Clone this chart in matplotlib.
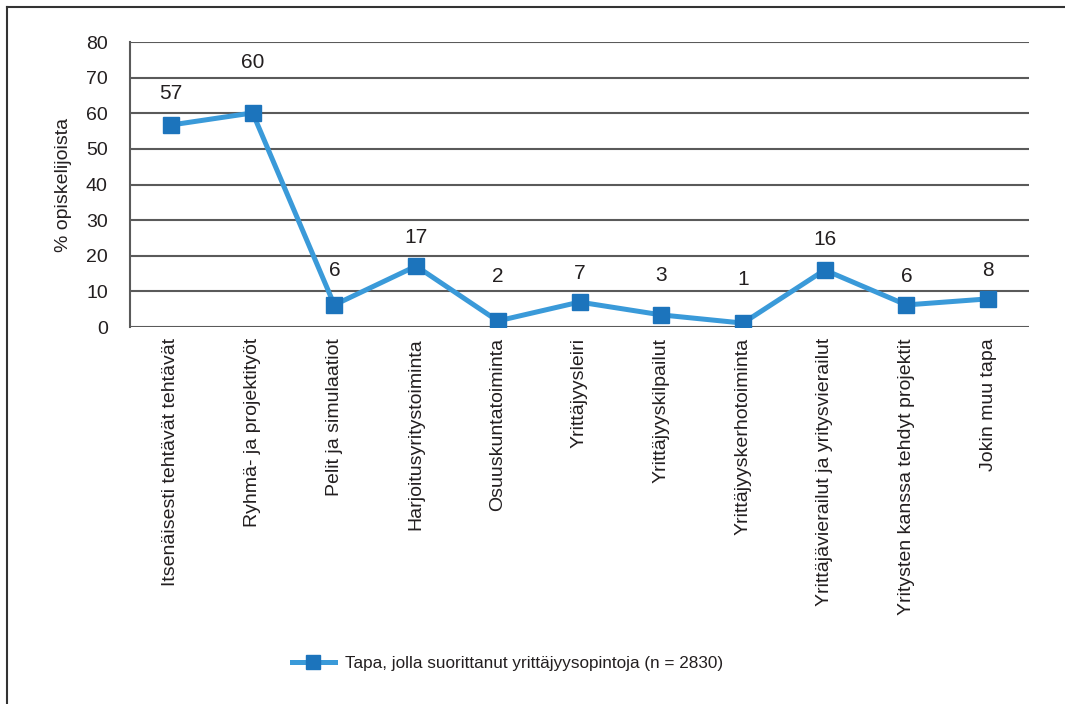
import matplotlib.pyplot as plt
from matplotlib.lines import Line2D
from matplotlib import font_manager

# ---------- Data ----------
categories = ['Itsenäisesti tehtävät tehtävät', 'Ryhmä- ja projektityöt',
              'Pelit ja simulaatiot', 'Harjoitusyritystoiminta',
              'Osuuskuntatoiminta', 'Yrittäjyysleiri', 'Yrittäjyyskilpailut',
              'Yrittäjyyskerhotoiminta', 'Yrittäjävierailut ja yritysvierailut',
              'Yritysten kanssa tehdyt projektit', 'Jokin muu tapa']
values = [56.7, 60.1, 6.2, 17.1, 1.7, 7.0, 3.4, 1.1, 16.0, 6.2, 7.9]
value_labels = ['57', '60', '6', '17', '2', '7', '3', '1', '16', '6', '8']
series_name = 'Tapa, jolla suorittanut yrittäjyysopintoja (n = 2830)'
y_ticks = [0, 10, 20, 30, 40, 50, 60, 70, 80]

# label placement above each point (pixels), as in the original
label_offsets_px = [32, 50, 34, 29, 44, 29, 39, 44, 31, 28, 28]

names = {f.name for f in font_manager.fontManager.ttflist}
font = 'Liberation Sans Narrow' if 'Liberation Sans Narrow' in names else 'Liberation Sans'
plt.rcParams['font.family'] = [font, 'DejaVu Sans']

LINE = '#3a9ad9'
MARK = '#1c74bc'
GRID = '#5a5a5a'
TXT = '#231f20'

fig = plt.figure(figsize=(10.65, 7.04), dpi=100)
ax = fig.add_axes([0.1221, 0.5355, 0.9662 - 0.1221, 0.9403 - 0.5355])

x = list(range(len(categories)))
ax.plot(x, values, color=LINE, lw=3.6, marker='s', markersize=11.5,
        markerfacecolor=MARK, markeredgecolor=MARK, label=series_name,
        zorder=3)
for xi, v, lab, off in zip(x, values, value_labels, label_offsets_px):
    ax.annotate(lab, (xi, v), xytext=(0, off * 0.72), textcoords='offset points',
                ha='center', va='center', fontsize=15, color=TXT)

ax.set_xlim(-0.5, len(categories) - 0.5)
ax.set_ylim(0, 80)
ax.set_yticks(y_ticks)
ax.set_yticklabels([str(t) for t in y_ticks], fontsize=14, color=TXT)
ax.set_xticks(x)
ax.set_xticklabels(categories, rotation=90, fontsize=14, color=TXT)
ax.tick_params(length=0, pad=8)
ax.tick_params(axis='y', pad=16)
ax.yaxis.grid(True, color=GRID, lw=1.5)
ax.set_axisbelow(True)
for s in ['top', 'right', 'bottom']:
    ax.spines[s].set_visible(False)
ax.spines['left'].set_color(GRID)
ax.spines['left'].set_linewidth(1.5)
ax.set_ylabel('% opiskelijoista', fontsize=14, color=TXT, labelpad=10)

leg = fig.legend(loc='center', bbox_to_anchor=(0.4765, 0.058), frameon=False,
                 fontsize=12.3, handlelength=2.5, handletextpad=0.6,
                 markerscale=0.9)
for t in leg.get_texts():
    t.set_color(TXT)

# frame around the figure (left and top edge visible)
fig.add_artist(Line2D([0.0066, 0.0066], [0, 0.990], transform=fig.transFigure,
                      color='#333333', lw=1.5))
fig.add_artist(Line2D([0.0066, 1.0], [0.990, 0.990], transform=fig.transFigure,
                      color='#333333', lw=1.5))

plt.savefig('out.png', dpi=100)
